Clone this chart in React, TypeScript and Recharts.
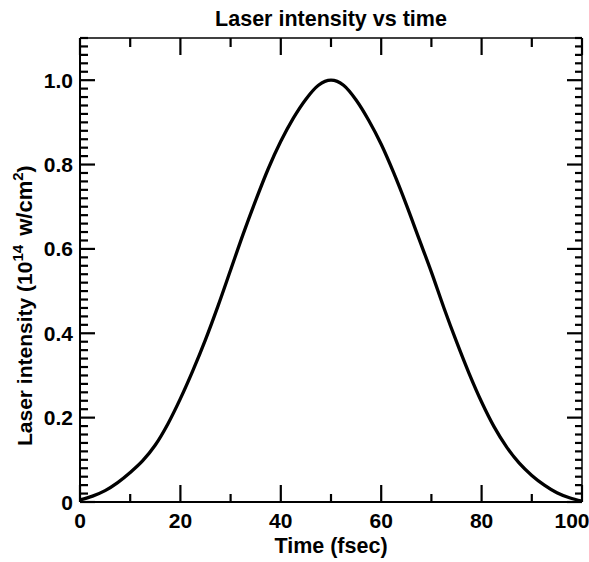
import React from 'react';
import { LineChart, Line, XAxis, YAxis, ReferenceLine } from 'recharts';

const timeFs = [0, 2.5, 5, 7.5, 10, 12.5, 15, 17.5, 20, 22.5, 25, 27.5, 30, 32.5, 35, 37.5, 40, 42.5, 45, 47.5, 50,
  52.5, 55, 57.5, 60, 62.5, 65, 67.5, 70, 72.5, 75, 77.5, 80, 82.5, 85, 87.5, 90, 92.5, 95, 97.5, 100];
const intensity = [0.005, 0.014, 0.027, 0.046, 0.07, 0.098, 0.135, 0.185, 0.245, 0.312, 0.385, 0.465, 0.55, 0.635, 0.715, 0.79, 0.855, 0.91, 0.955, 0.988, 1.0,
  0.988, 0.953, 0.905, 0.848, 0.78, 0.705, 0.625, 0.545, 0.46, 0.38, 0.305, 0.237, 0.178, 0.13, 0.092, 0.063, 0.04, 0.022, 0.01, 0.002];

const xTicks = [0, 10, 20, 30, 40, 50, 60, 70, 80, 90, 100];
const xMajor = [0, 20, 40, 60, 80, 100];
const yMajor = [0, 0.2, 0.4, 0.6, 0.8, 1.0];
const yTicks = Array.from({ length: 56 }, (_, i) => Math.round(i * 2) / 100);

const data = timeFs.map((t, i) => ({ t, v: intensity[i] }));

const FONT = '"Liberation Sans", Arial, Helvetica, sans-serif';
const isYMajor = (v: number) => yMajor.some((m) => Math.abs(m - v) < 1e-6);
const isXMajor = (v: number) => xMajor.includes(v);

// plot area size in px, used to express tick-mark lengths in axis units
const PLOT_W = 502;
const PLOT_H = 464;
const X_MAX = 100;
const Y_MAX = 1.1;
const dxPx = (px: number) => (px * X_MAX) / PLOT_W;
const dyPx = (px: number) => (px * Y_MAX) / PLOT_H;

const LeftTick = (props: any) => {
  const x = Number(props.x);
  const y = Number(props.y);
  const v = props.payload.value;
  if (!isYMajor(v)) return <g />;
  return (
    <text x={x} y={y} dy="0.36em" textAnchor="end" fontFamily={FONT} fontWeight="bold" fontSize={21} fill="#000">
      {v === 0 ? '0' : v.toFixed(1)}
    </text>
  );
};

const BottomTick = (props: any) => {
  const x = Number(props.x);
  const y = Number(props.y);
  const v = props.payload.value;
  if (!isXMajor(v)) return <g />;
  const lx = v === 100 ? x - 10 : x;
  return (
    <text x={lx} y={y + 26} textAnchor="middle" fontFamily={FONT} fontWeight="bold" fontSize={21} fill="#000">
      {v}
    </text>
  );
};

const EmptyTick = () => <g />;

const TitleLabel = (props: any) => {
  const vb = props.viewBox || { x: 80, width: 502 };
  return (
    <text x={vb.x + vb.width / 2} y={26} textAnchor="middle" fontFamily={FONT} fontWeight="bold" fontSize={21.5} fill="#000">
      Laser intensity vs time
    </text>
  );
};

const XLabel = (props: any) => {
  const vb = props.viewBox || { x: 80, width: 502 };
  return (
    <text x={vb.x + vb.width / 2} y={553} textAnchor="middle" fontFamily={FONT} fontWeight="bold" fontSize={21.5} fill="#000">
      Time (fsec)
    </text>
  );
};

const YLabel = () => {
  const cx = 32;
  const cy = 446;
  return (
    <text x={cx} y={cy} transform={`rotate(-90, ${cx}, ${cy})`} textAnchor="start" fontFamily={FONT} fontWeight="bold" fontSize={21} fill="#000">
      Laser intensity (10
      <tspan dy={-9} fontSize={15}>14</tspan>
      <tspan dy={9} dx={3} fontSize={22}> w/cm</tspan>
      <tspan dy={-9} fontSize={15}>2</tspan>
      <tspan dy={9}>)</tspan>
    </text>
  );
};

const TICK = { stroke: '#000', strokeWidth: 2.2 };

export default function App() {
  return (
    <div style={{ position: 'fixed', left: 0, top: 0, width: 589, height: 562, background: '#fff' }}>
      <LineChart width={589} height={562} data={data} margin={{ top: 0, right: 0, bottom: 0, left: 0 }}>
        <XAxis
          xAxisId="bottom"
          dataKey="t"
          type="number"
          domain={[0, X_MAX]}
          ticks={xTicks}
          interval={0}
          orientation="bottom"
          height={60}
          tickSize={0}
          tickMargin={0}
          tickLine={false}
          tick={<BottomTick />}
          axisLine={{ stroke: '#000', strokeWidth: 2 }}
          label={<XLabel />}
        />
        <XAxis
          xAxisId="top"
          dataKey="t"
          type="number"
          domain={[0, X_MAX]}
          ticks={xTicks}
          interval={0}
          orientation="top"
          height={38}
          tickSize={0}
          tickMargin={0}
          tickLine={false}
          tick={<EmptyTick />}
          axisLine={{ stroke: '#000', strokeWidth: 1.5 }}
          label={<TitleLabel />}
        />
        <YAxis
          yAxisId="left"
          type="number"
          domain={[0, Y_MAX]}
          ticks={yTicks}
          interval={0}
          orientation="left"
          width={80}
          tickSize={0}
          tickMargin={7}
          tickLine={false}
          tick={<LeftTick />}
          axisLine={{ stroke: '#000', strokeWidth: 2 }}
          label={<YLabel />}
        />
        <YAxis
          yAxisId="right"
          type="number"
          domain={[0, Y_MAX]}
          ticks={yTicks}
          interval={0}
          orientation="right"
          width={7}
          tickSize={0}
          tickMargin={0}
          tickLine={false}
          tick={<EmptyTick />}
          axisLine={{ stroke: '#000', strokeWidth: 1.5 }}
        />
        {yTicks.map((v) => (
          <ReferenceLine
            key={`l${v}`}
            xAxisId="bottom"
            yAxisId="left"
            ifOverflow="visible"
            segment={[{ x: 0, y: v }, { x: dxPx(isYMajor(v) ? 15 : 8), y: v }]}
            {...TICK}
          />
        ))}
        {yTicks.map((v) => (
          <ReferenceLine
            key={`r${v}`}
            xAxisId="bottom"
            yAxisId="left"
            ifOverflow="visible"
            segment={[{ x: X_MAX - dxPx(isYMajor(v) ? 15 : 7), y: v }, { x: X_MAX, y: v }]}
            {...TICK}
          />
        ))}
        {xTicks.map((t) => (
          <ReferenceLine
            key={`b${t}`}
            xAxisId="bottom"
            yAxisId="left"
            ifOverflow="visible"
            segment={[{ x: t, y: 0 }, { x: t, y: dyPx(isXMajor(t) ? 17 : 8) }]}
            {...TICK}
          />
        ))}
        {xTicks.map((t) => (
          <ReferenceLine
            key={`t${t}`}
            xAxisId="bottom"
            yAxisId="left"
            ifOverflow="visible"
            segment={[{ x: t, y: Y_MAX - dyPx(isXMajor(t) ? 17 : 9) }, { x: t, y: Y_MAX }]}
            {...TICK}
          />
        ))}
        <Line
          xAxisId="bottom"
          yAxisId="left"
          type="monotone"
          dataKey="v"
          stroke="#000"
          strokeWidth={3.3}
          dot={false}
          isAnimationActive={false}
        />
      </LineChart>
    </div>
  );
}
